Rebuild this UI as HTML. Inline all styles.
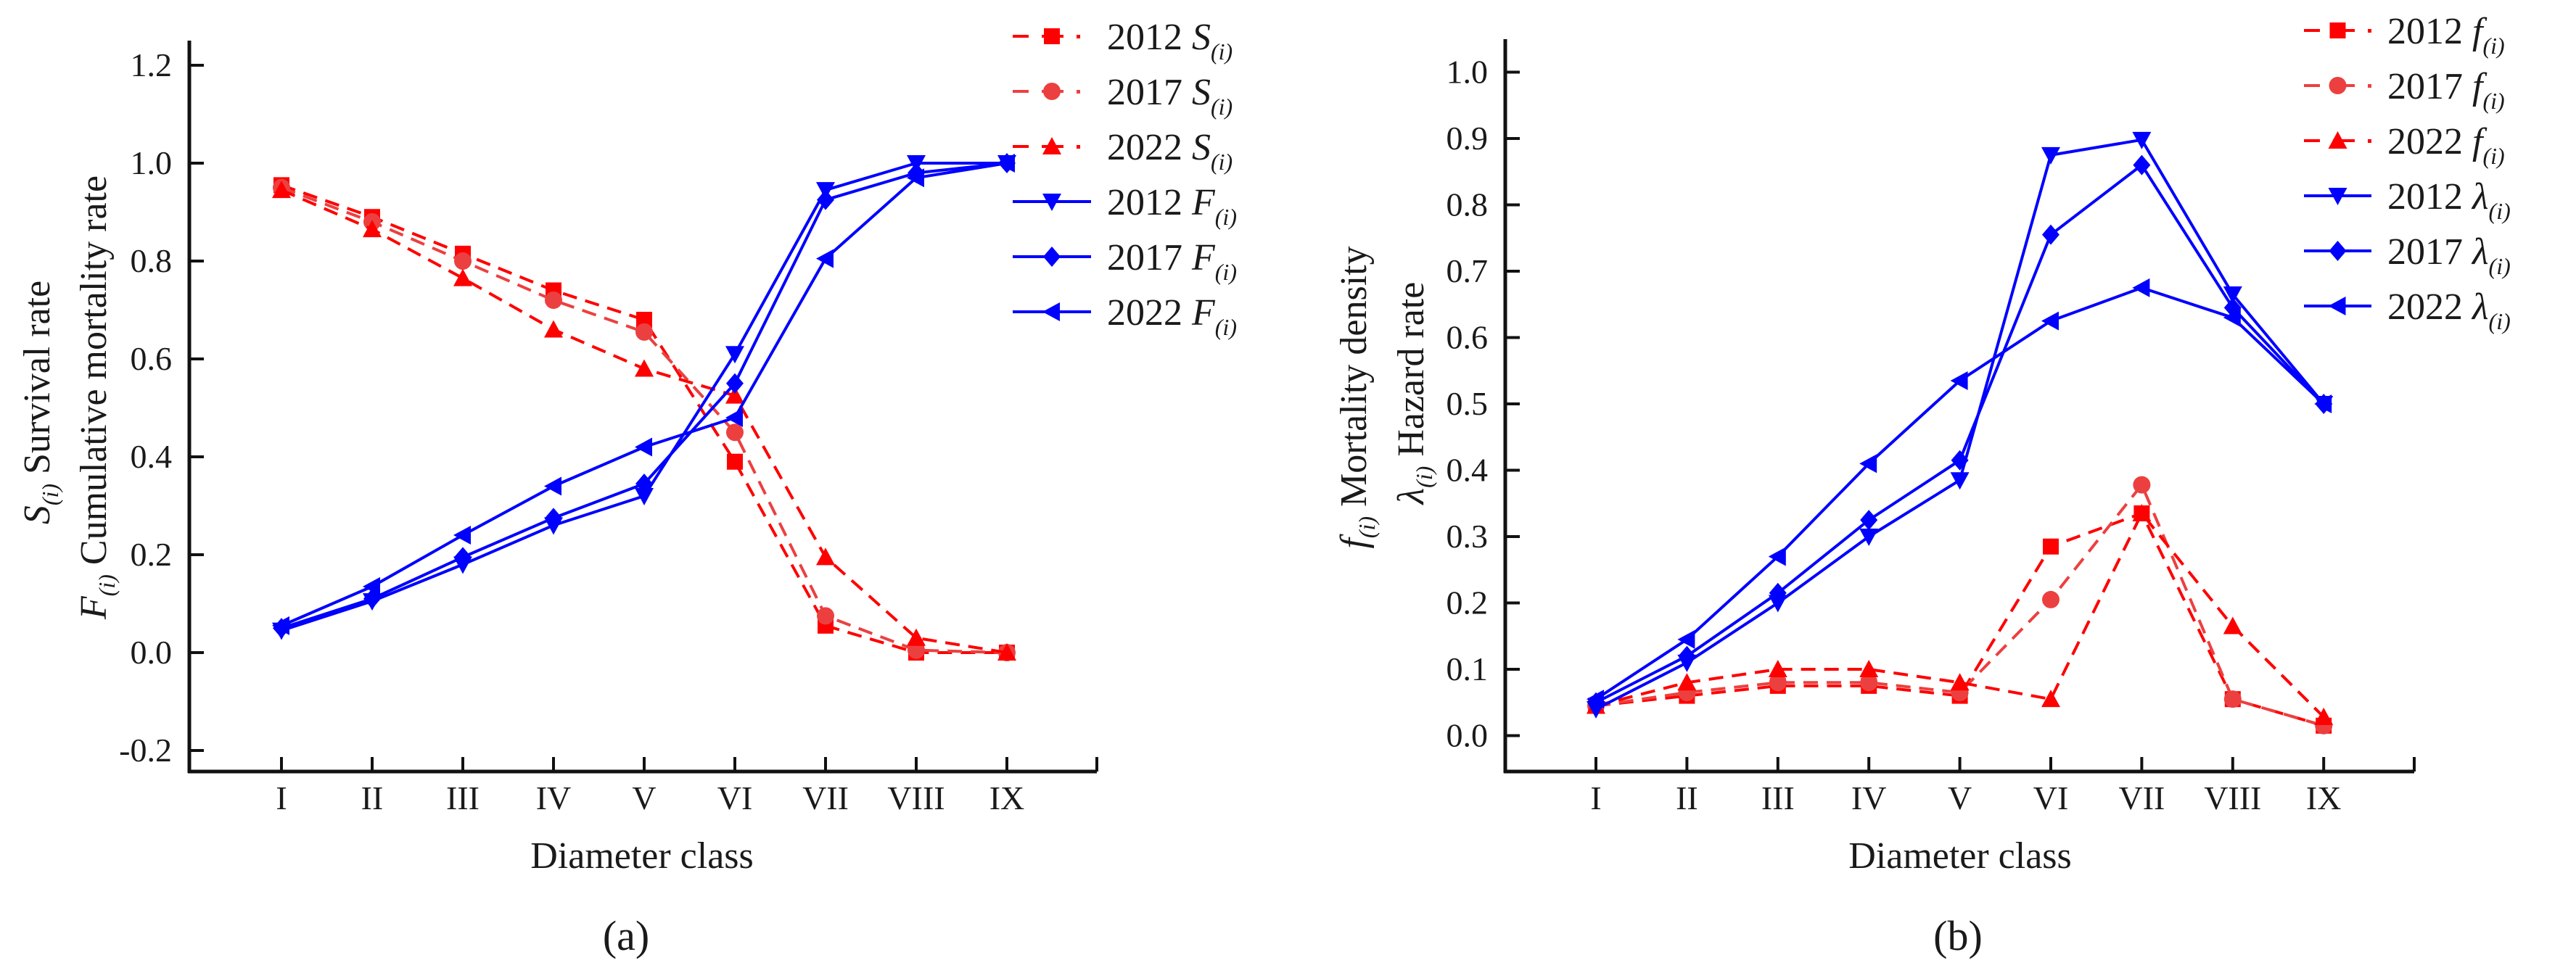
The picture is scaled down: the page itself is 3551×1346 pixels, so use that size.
<!DOCTYPE html>
<html><head><meta charset="utf-8"><style>
html,body{margin:0;padding:0;background:#fff}
svg{display:block}
text{font-family:"Liberation Serif",serif;fill:#1a1a1a}
</style></head><body>
<svg id="fig" width="3551" height="1346" viewBox="0 0 3551 1346" xmlns="http://www.w3.org/2000/svg"></svg>
<script>
const categories = ["I","II","III","IV","V","VI","VII","VIII","IX"];
// Panel (a)
const aS2012 = [0.955,0.89,0.815,0.74,0.68,0.39,0.055,0.0,0.0];
const aS2017 = [0.95,0.88,0.80,0.72,0.655,0.45,0.075,0.005,0.0];
const aS2022 = [0.945,0.865,0.765,0.66,0.58,0.525,0.195,0.03,0.0];
const aF2012 = [0.045,0.105,0.18,0.26,0.32,0.61,0.945,1.0,1.0];
const aF2017 = [0.05,0.11,0.195,0.275,0.345,0.55,0.925,0.98,1.0];
const aF2022 = [0.055,0.135,0.24,0.34,0.42,0.48,0.805,0.97,1.0];
const aTicks = [-0.2,0.0,0.2,0.4,0.6,0.8,1.0,1.2];
const aTickLabels = ["-0.2","0.0","0.2","0.4","0.6","0.8","1.0","1.2"];
// Panel (b)
const bf2012 = [0.045,0.06,0.075,0.075,0.06,0.285,0.335,0.055,0.015];
const bf2017 = [0.045,0.065,0.08,0.08,0.065,0.205,0.378,0.055,0.015];
const bf2022 = [0.045,0.08,0.10,0.10,0.08,0.055,0.335,0.165,0.028];
const bL2012 = [0.04,0.11,0.20,0.30,0.385,0.875,0.898,0.665,0.50];
const bL2017 = [0.05,0.12,0.215,0.325,0.415,0.755,0.86,0.645,0.50];
const bL2022 = [0.055,0.145,0.27,0.41,0.535,0.625,0.675,0.63,0.50];
const bTicks = [0.0,0.1,0.2,0.3,0.4,0.5,0.6,0.7,0.8,0.9,1.0];
const bTickLabels = ["0.0","0.1","0.2","0.3","0.4","0.5","0.6","0.7","0.8","0.9","1.0"];

const NS="http://www.w3.org/2000/svg";
const svg=document.getElementById('fig');
function mk(tag,attrs,parent){const e=document.createElementNS(NS,tag);for(const k in attrs)e.setAttribute(k,attrs[k]);(parent||svg).appendChild(e);return e;}

const RED="#ff0000", RED2="#ec4040", BLUE="#0000ff";

function marker(g,type,x,y,color){
  const s=11;let e;
  if(type==='square') e=mk('rect',{x:x-s,y:y-s,width:2*s,height:2*s,fill:color},g);
  else if(type==='circle') e=mk('circle',{cx:x,cy:y,r:s+1,fill:color},g);
  else if(type==='tri') e=mk('polygon',{points:`${x},${y-s-2} ${x+s+2},${y+s} ${x-s-2},${y+s}`,fill:color},g);
  else if(type==='tridown') e=mk('polygon',{points:`${x},${y+s+2} ${x+s+2},${y-s} ${x-s-2},${y-s}`,fill:color},g);
  else if(type==='diamond') e=mk('polygon',{points:`${x},${y-s-3} ${x+s+1},${y} ${x},${y+s+3} ${x-s-1},${y}`,fill:color},g);
  else if(type==='trileft') e=mk('polygon',{points:`${x-s-2},${y} ${x+s},${y-s-2} ${x+s},${y+s+2}`,fill:color},g);
  
  
}

function panel(cfg){
  const g=mk('g',{});
  
  
  const xs=i=>cfg.x0+i*cfg.dx;
  const ys=v=>cfg.y0-(v/cfg.unit)*cfg.upx;
  // axes
  const ax=mk('line',{x1:cfg.ax,y1:cfg.axTop,x2:cfg.ax,y2:cfg.axBot+2,stroke:'#111','stroke-width':5},g);
  
  const bx=mk('line',{x1:cfg.ax-2,y1:cfg.axBot,x2:cfg.axRight,y2:cfg.axBot,stroke:'#111','stroke-width':5},g);
  
  mk('line',{x1:cfg.axRight,y1:cfg.axBot,x2:cfg.axRight,y2:cfg.axBot-20,stroke:'#111','stroke-width':4},g);
  cfg.ticks.forEach((v,i)=>{
    mk('line',{x1:cfg.ax,y1:ys(v),x2:cfg.ax+20,y2:ys(v),stroke:'#111','stroke-width':4},g);
    const t=mk('text',{x:cfg.ax-24,y:ys(v)+15,'text-anchor':'end','font-size':46},g);
    t.textContent=cfg.tickLabels[i];
    
  });
  categories.forEach((c,i)=>{
    mk('line',{x1:xs(i),y1:cfg.axBot,x2:xs(i),y2:cfg.axBot-20,stroke:'#111','stroke-width':4},g);
    const t=mk('text',{x:xs(i),y:cfg.axBot+52,'text-anchor':'middle','font-size':46},g);
    t.textContent=c;
    
  });
  const xt=mk('text',{x:cfg.xTitleX,y:cfg.axBot+133,'text-anchor':'middle','font-size':52},g);
  xt.textContent='Diameter class';
  
  const cap=mk('text',{x:cfg.capX,y:1310,'text-anchor':'middle','font-size':58},g);
  cap.textContent=cfg.cap;
  
  // y titles
  cfg.yTitles.forEach(yt=>{
    const t=mk('text',{transform:`translate(${yt.x},${yt.cy}) rotate(-90)`,'text-anchor':'middle','font-size':52},g);
    const s1=mk('tspan',{'font-style':'italic'},t);s1.textContent=yt.sym;
    const s2=mk('tspan',{'font-style':'italic','font-size':32,dy:12},t);s2.textContent='(i)';
    const s3=mk('tspan',{dy:-12},t);s3.textContent=' '+yt.label;
    
  });
  // series
  cfg.series.forEach(s=>{
    const sg=mk('g',{},g);
    
    const pts=s.data.map((v,i)=>`${xs(i)},${ys(v)}`).join(' ');
    const pl=mk('polyline',{points:pts,fill:'none',stroke:s.color,'stroke-width':4,'stroke-dasharray':s.dash?'20 12':'none','stroke-linejoin':'round'},sg);
    
    s.data.forEach((v,i)=>marker(sg,s.m,xs(i),ys(v),s.color));
  });
  // legend
  cfg.series.forEach((s,k)=>{
    const lg=mk('g',{},g);
    
    const y=cfg.legY0+k*cfg.legDy;
    if(s.dash){
      mk('line',{x1:cfg.legX,y1:y,x2:cfg.legX+22,y2:y,stroke:s.color,'stroke-width':4},lg);
      mk('line',{x1:cfg.legX+40,y1:y,x2:cfg.legX+70,y2:y,stroke:s.color,'stroke-width':4},lg);
      mk('rect',{x:cfg.legX+88,y:y-2,width:5,height:5,fill:s.color},lg);
    } else {
      mk('line',{x1:cfg.legX,y1:y,x2:cfg.legX+cfg.legW,y2:y,stroke:s.color,'stroke-width':4},lg);
    }
    marker(lg,s.m,cfg.legX+cfg.legW/2,y,s.color);
    const t=mk('text',{x:cfg.legX+cfg.legW+22,y:y+18,'font-size':52},lg);
    const a=mk('tspan',{},t);a.textContent=s.year+'  ';
    const b=mk('tspan',{'font-style':'italic'},t);b.textContent=s.sym;
    const c=mk('tspan',{'font-style':'italic','font-size':32,dy:14},t);c.textContent='(i)';
  });
}

panel({name:'panel-a',ax:261,axTop:56,axBot:1064,axRight:1512,x0:388,dx:125,y0:900,unit:0.2,upx:135,
  ticks:aTicks,tickLabels:aTickLabels,xTitleX:885,capX:863,cap:'(a)',
  yTitles:[{x:68,cy:555,sym:'S',label:'Survival rate'},{x:146,cy:548,sym:'F',label:'Cumulative mortality rate'}],
  legX:1396,legW:108,legY0:50,legDy:76,
  series:[
    {id:'2012-S',year:'2012',sym:'S',data:aS2012,color:RED,dash:true,m:'square'},
    {id:'2017-S',year:'2017',sym:'S',data:aS2017,color:RED2,dash:true,m:'circle'},
    {id:'2022-S',year:'2022',sym:'S',data:aS2022,color:RED,dash:true,m:'tri'},
    {id:'2012-F',year:'2012',sym:'F',data:aF2012,color:BLUE,dash:false,m:'tridown'},
    {id:'2017-F',year:'2017',sym:'F',data:aF2017,color:BLUE,dash:false,m:'diamond'},
    {id:'2022-F',year:'2022',sym:'F',data:aF2022,color:BLUE,dash:false,m:'trileft'}
  ]});

panel({name:'panel-b',ax:2075,axTop:54,axBot:1064,axRight:3328,x0:2200,dx:125.4,y0:1014.5,unit:0.1,upx:91.5,
  ticks:bTicks,tickLabels:bTickLabels,xTitleX:2702,capX:2699,cap:'(b)',
  yTitles:[{x:1883,cy:548,sym:'f',label:'Mortality density'},{x:1962,cy:542,sym:'λ',label:'Hazard rate'}],
  legX:3176,legW:93,legY0:42,legDy:76,
  series:[
    {id:'2012-f',year:'2012',sym:'f',data:bf2012,color:RED,dash:true,m:'square'},
    {id:'2017-f',year:'2017',sym:'f',data:bf2017,color:RED2,dash:true,m:'circle'},
    {id:'2022-f',year:'2022',sym:'f',data:bf2022,color:RED,dash:true,m:'tri'},
    {id:'2012-lambda',year:'2012',sym:'λ',data:bL2012,color:BLUE,dash:false,m:'tridown'},
    {id:'2017-lambda',year:'2017',sym:'λ',data:bL2017,color:BLUE,dash:false,m:'diamond'},
    {id:'2022-lambda',year:'2022',sym:'λ',data:bL2022,color:BLUE,dash:false,m:'trileft'}
  ]});
</script>
</body></html>
